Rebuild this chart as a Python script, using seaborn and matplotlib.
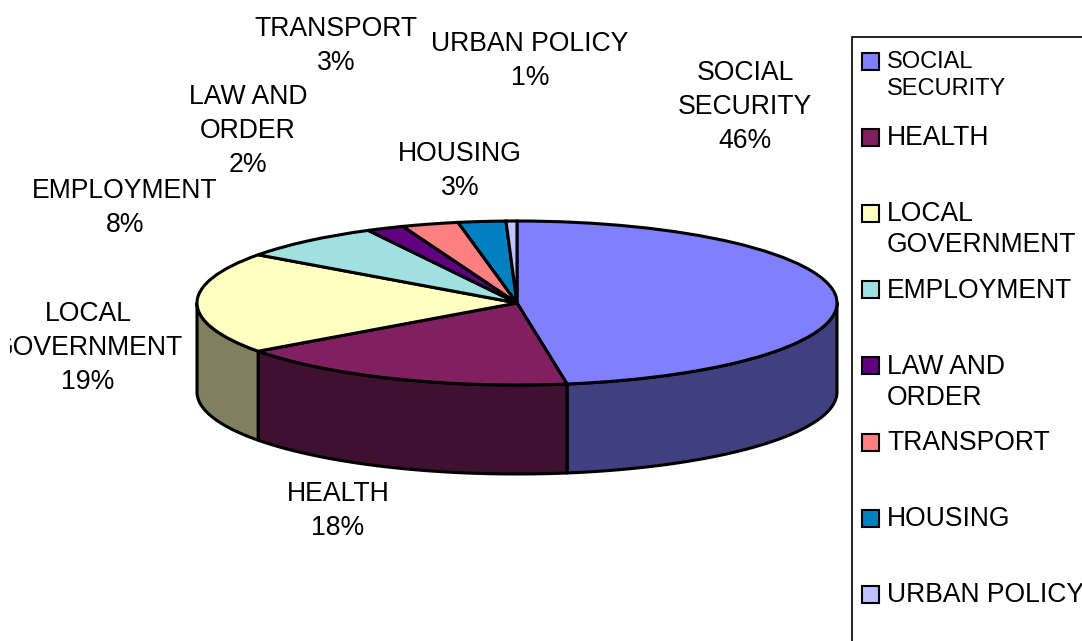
import numpy as np
import matplotlib
matplotlib.use("Agg")
import matplotlib.pyplot as plt
import seaborn as sns
from matplotlib.patches import Rectangle
from matplotlib.transforms import Bbox

# Categories and what the chart prints for them
categories = ["SOCIAL SECURITY", "HEALTH", "LOCAL GOVERNMENT", "EMPLOYMENT",
              "LAW AND ORDER", "TRANSPORT", "HOUSING", "URBAN POLICY"]
percent_labels = [46, 18, 19, 8, 2, 3, 3, 1]
# Slice sizes as they appear on the drawn ellipse (the 3D view stretches the front)
slice_sizes = [47.5, 17.5, 20.0, 7.3, 1.9, 2.85, 2.4, 0.55]
slice_colors = ["#8080FF", "#802060", "#FFFFC0", "#A0E0E0",
                "#600080", "#FF8080", "#0080C0", "#C0C0FF"]

# Wrapped text of the slice labels and the legend
chart_names = ["SOCIAL\nSECURITY", "HEALTH", "LOCAL\nGOVERNMENT", "EMPLOYMENT",
               "LAW AND\nORDER", "TRANSPORT", "HOUSING", "URBAN POLICY"]
legend_names = [["SOCIAL", "SECURITY"], ["HEALTH"], ["LOCAL", "GOVERNMENT"], ["EMPLOYMENT"],
                ["LAW AND", "ORDER"], ["TRANSPORT"], ["HOUSING"], ["URBAN POLICY"]]

# Layout in pixels of the 1082x641 picture
W, H = 1082, 641
cx, cy, rx, ry, depth = 517, 303, 320, 82, 89
label_pos = [(745, 107), (338, 511), (88, 348), (125, 208),
             (248, 131), (336, 46), (460, 171), (530, 61)]

sns.set_theme(style="white")
plt.rcParams["font.family"] = ["Liberation Sans", "DejaVu Sans"]
palette = sns.color_palette(slice_colors)

fig = plt.figure(figsize=(W / 100, H / 100), dpi=100, facecolor="white")
ax = fig.add_axes([0, 0, 1, 1])

wedges, _ = ax.pie(slice_sizes, colors=palette, startangle=90, counterclock=False,
                   radius=1, wedgeprops=dict(edgecolor="black", linewidth=2.2, zorder=3))

# Stretch the unit circle into the ellipse of the pie top
ax.set_aspect("auto")
ax.set_xlim(-cx / rx, (W - cx) / rx)
ax.set_ylim(-(H - cy) / ry, cy / ry)
ax.axis("off")

# Side wall of the pie: only the front half of each slice is visible
edges = np.cumsum([0] + slice_sizes) / sum(slice_sizes) * 360
wall = depth / ry
for i, col in enumerate(palette):
    start = max(edges[i], 90)
    end = min(edges[i + 1], 270)
    if start >= end:
        continue
    t = np.radians(np.linspace(start, end, 80))
    xs = np.sin(t)
    ys = np.cos(t)
    ax.fill(np.r_[xs, xs[::-1]], np.r_[ys, ys[::-1] - wall],
            facecolor=[c * 0.5 for c in col], edgecolor="black", linewidth=2.2,
            joinstyle="round", zorder=2)


def px(x, y):
    return x / W, 1 - y / H


# Slice labels, the left one is cut off by the chart area in the original
for name, pct, pos in zip(chart_names, percent_labels, label_pos):
    x, y = px(*pos)
    txt = fig.text(x, y, f"{name}\n{pct}%", ha="center", va="center", ma="center",
                   fontsize=19.2, color="black", linespacing=1.42)
    txt.set_clip_box(Bbox([[10, 0], [W, H]]))
    txt.set_clip_on(True)

# Legend box runs off the right and bottom edge
fig.add_artist(Rectangle(px(852, 700), 300 / W, 663 / H, transform=fig.transFigure,
                         facecolor="none", edgecolor="black", linewidth=1.2))

for i, (lines, col) in enumerate(zip(legend_names, palette)):
    row_y = 61 + 76.2 * i
    fig.add_artist(Rectangle(px(862, row_y + 8.5), 17 / W, 17 / H, transform=fig.transFigure,
                             facecolor=col, edgecolor="black", linewidth=1.5))
    small = i == 0
    step = 27 if small else 31
    for j, line in enumerate(lines):
        x, y = px(887, row_y + 1 + step * j)
        fig.text(x, y, line, ha="left", va="center", color="black",
                 fontsize=17 if small else 19.1)

fig.savefig("out.png", dpi=100, facecolor="white")
